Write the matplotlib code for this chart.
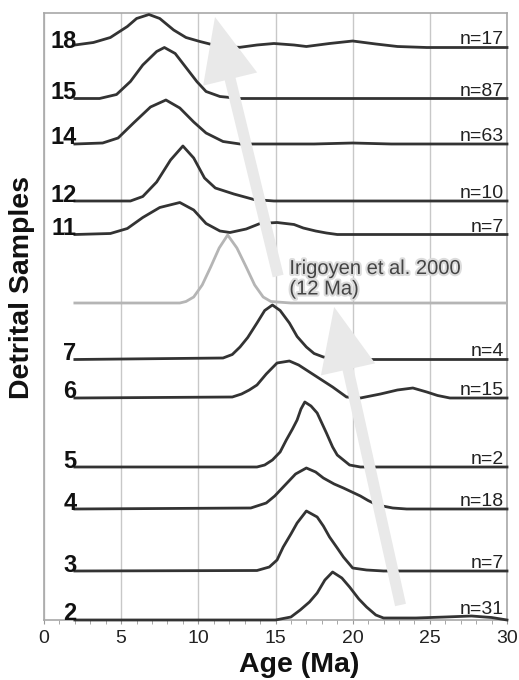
import numpy as np
import matplotlib
matplotlib.use('Agg')
import matplotlib.pyplot as plt
import matplotlib.patheffects as pe
from matplotlib.patches import FancyArrowPatch

plt.rcParams['font.family'] = ['Liberation Sans', 'DejaVu Sans']

# sample names, counts, vertical offsets (stacking baseline)
samples = ['18', '15', '14', '12', '11', '7', '6', '5', '4', '3', '2']
counts = ['n=17', 'n=87', 'n=63', 'n=10', 'n=7', 'n=4', 'n=15', 'n=2', 'n=18', 'n=7', 'n=31']
offsets = [572.5, 521.5, 476, 419, 385.5, 260.5, 222, 153, 111, 49, 0]

# age (Ma) / relative probability
age_18 = [2.0, 3.2, 4.3, 5.4, 6.0, 6.8, 7.5, 8.4, 9.2, 10.1, 11.0, 11.8, 12.7, 13.8, 14.9,
          16.2, 17.0, 18.5, 20.0, 21.5, 22.9, 24.8, 30]
pdf_18 = [2.5, 5, 10, 21, 29, 33, 29, 17.5, 10, 6, 2.5, 0.5, 0.2, 2.5, 4,
          2.5, 1, 4, 6.5, 3.5, 1, 0, 0]
age_15 = [2.0, 3.6, 4.7, 5.6, 6.4, 7.3, 7.8, 8.5, 9.25, 9.9, 10.5, 11.4, 12.7, 30]
pdf_15 = [0, 0, 4, 17, 33.5, 47, 51, 45, 30, 17, 7, 2, 0, 0]
age_14 = [2.0, 3.8, 4.8, 5.8, 6.9, 7.9, 8.8, 9.7, 10.5, 11.6, 12.7, 17.5, 20.0, 22.5, 30]
pdf_14 = [0, 1, 6, 21, 37, 44, 36, 22, 11, 2.5, 0, 0, 1, 0, 0]
age_12 = [2.0, 5.6, 6.4, 7.3, 8.2, 9.0, 9.7, 10.4, 11.1, 12.3, 13.6, 14.9, 30]
pdf_12 = [0, 0, 4.5, 19, 41, 55, 43, 23, 13, 7, 1.5, 0, 0]
age_11 = [2.0, 4.3, 5.4, 6.4, 7.5, 8.8, 9.7, 10.5, 11.4, 12.05, 13.1, 14.0, 15.1, 16.2,
          16.8, 17.6, 18.3, 19.0, 30]
pdf_11 = [0, 1, 6, 17, 27, 32, 24.5, 11, 3.5, 2, 5.5, 11, 12, 10,
          6.5, 3.5, 1.5, 0, 0]
age_7 = [2.0, 11.6, 12.2, 12.7, 13.2, 13.8, 14.3, 14.8, 15.3, 15.9, 16.4, 17.0, 17.5, 18.1, 19.2, 30]
pdf_7 = [0, 1.5, 5, 12.5, 22, 36.5, 49, 54.5, 49, 36.5, 23, 12.5, 6, 2.5, 0, 0]
age_6 = [2.0, 12.2, 12.8, 13.3, 13.8, 14.4, 15.1, 15.9, 16.5, 17.2, 18.0, 18.7, 19.6, 20.5,
         21.8, 22.9, 23.9, 24.8, 25.5, 26.3, 30]
pdf_6 = [0, 1, 4, 8, 13, 24, 35, 37, 33, 26, 18, 11, 1, 0,
         4, 8, 10, 6, 2.5, 0, 0]
age_5 = [2.0, 13.8, 14.3, 14.8, 15.3, 15.7, 16.1, 16.4, 16.65, 16.9, 17.3, 17.7, 18.3, 18.7,
         19.0, 19.8, 20.5, 30]
pdf_5 = [0, 0, 2, 7, 15, 27, 38, 47, 58, 65, 61, 54, 34, 20,
         12, 2, 0, 0]
age_4 = [2.0, 13.4, 14.4, 14.95, 15.5, 16.3, 17.0, 17.6, 18.1, 18.8, 19.4, 20.5, 21.0, 21.6,
         22.6, 23.5, 30]
pdf_4 = [0, 1, 6, 13, 22, 35, 41, 37, 31, 25, 21, 13, 8.5, 4,
         1, 0, 0]
age_3 = [2.0, 13.8, 14.6, 15.1, 15.5, 16.0, 16.4, 17.0, 17.7, 18.1, 18.5, 19.0, 19.4, 20.0,
         20.9, 22.0, 30]
pdf_3 = [0, 0.5, 4, 11, 24, 37, 48, 60, 54, 45, 34, 23, 14, 3,
         1, 0, 0]
age_2 = [2.0, 15.0, 16.0, 16.6, 17.2, 17.7, 18.2, 18.7, 19.3, 19.8, 20.4, 20.9, 21.5, 22.0,
         24.1, 26.0, 27.7, 29.0, 30]
pdf_2 = [0, 0, 3, 10, 18, 27, 40, 48, 42, 33, 21, 13, 5, 2,
         2, 3, 4, 2.5, 0]

# Irigoyen et al. 2000 reference curve
age_ir = [2.0, 8.8, 9.2, 9.7, 10.25, 10.8, 11.35, 11.9, 12.5, 13.1, 13.65, 14.2, 14.7, 15.1, 16.0, 30]
pdf_ir = [0, 0, 1.5, 6, 18, 36, 55, 68, 55, 36, 18, 6, 1.5, 1, 0, 0]
offset_ir = 317

ages = [age_18, age_15, age_14, age_12, age_11, age_7, age_6, age_5, age_4, age_3, age_2]
pdfs = [pdf_18, pdf_15, pdf_14, pdf_12, pdf_11, pdf_7, pdf_6, pdf_5, pdf_4, pdf_3, pdf_2]

fig = plt.figure(figsize=(5.19, 6.80), dpi=100)
ax = fig.add_axes([44 / 519, 60 / 680, 463 / 519, 607 / 680])

# big grey trend arrows
for start, end in [((15.17, 344), (11.08, 603)), ((23.1, 15), (18.8, 313))]:
    arr = FancyArrowPatch(start, end, arrowstyle='simple,head_length=46,head_width=40,tail_width=8',
                          mutation_scale=1, shrinkA=0, shrinkB=0, fc='#e9e9e9', ec='none', zorder=5)
    ax.add_patch(arr)

ax.plot(age_ir, np.array(pdf_ir) + offset_ir, color='#b5b5b5', lw=2, zorder=3,
        solid_joinstyle='round')

for name, n, off, a, p in zip(samples, counts, offsets, ages, pdfs):
    ax.plot(a, np.array(p) + off, color='#333333', lw=2, zorder=4, clip_on=False,
            solid_joinstyle='round')
    ax.text(2.1, off - 0.5, name, ha='right', va='baseline', fontsize=17,
            fontweight='bold', color='#111111', zorder=6)
    ax.text(29.8, max(off + 3, 6), n, ha='right', va='baseline', fontsize=14,
            color='#222222', zorder=6)

ax.text(15.9, 361, 'Irigoyen et al. 2000\n(12 Ma)', ha='left', va='top', fontsize=14.5,
        color='#444444', linespacing=1.1, zorder=6,
        path_effects=[pe.withStroke(linewidth=3, foreground='#dcdcdc')])

ax.set_xlim(0, 30)
ax.set_ylim(0, 607)
ax.set_xticks([0, 5, 10, 15, 20, 25, 30])
ax.set_xticks(np.arange(0, 31, 1), minor=True)
ax.set_yticks([])
ax.grid(axis='x', color='#c8c8c8', lw=1)
ax.set_axisbelow(True)
ax.tick_params(axis='x', which='both', direction='out', length=3, color='#999999',
               labelsize=14, labelcolor='#222222', pad=4)
for s in ax.spines.values():
    s.set_color('#a8a8a8')
    s.set_linewidth(1.2)

fig.text(299 / 519, 1 - 672 / 680, 'Age (Ma)', ha='center', va='baseline',
         fontsize=20.5, fontweight='bold', color='#111111')
fig.text(22 / 519, 1 - 287 / 680, 'Detrital Samples', ha='center', va='center',
         rotation=90, fontsize=20.5, fontweight='bold', color='#111111')

fig.savefig('out.png', dpi=100)
